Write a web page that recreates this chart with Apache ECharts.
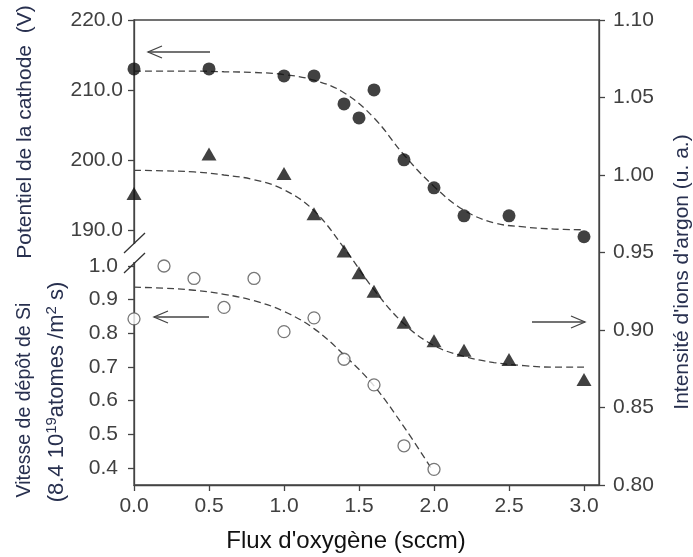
<!DOCTYPE html>
<html>
<head>
<meta charset="utf-8">
<script src="https://cdn.jsdelivr.net/npm/echarts@6/dist/echarts.min.js"></script>
<style>
html,body{margin:0;padding:0;background:#fff;}
#chart{width:693px;height:557px;}
</style>
</head>
<body>
<div id="chart"></div>
<script>
// ---- Data ----
const xTicks = [0, 0.5, 1.0, 1.5, 2.0, 2.5, 3.0];
const potTicks = [190, 200, 210, 220];
const rateTicks = [0.4, 0.5, 0.6, 0.7, 0.8, 0.9, 1.0];

// Cathode potential (V) — filled circles
const xPot = [0, 0.5, 1.0, 1.2, 1.4, 1.5, 1.6, 1.8, 2.0, 2.2, 2.5, 3.0];
const potential = [213, 213, 212, 212, 208, 206, 210, 200, 196, 192, 192, 189];
// Dashed fit through potential
const xPotFit = [0, 0.2, 0.4, 0.6, 0.8, 1.0, 1.2, 1.4, 1.6, 1.8, 2.0, 2.2, 2.4, 2.6, 2.8, 3.0];
const potFit = [212.7, 212.7, 212.7, 212.6, 212.5, 212.2, 211.4, 209.6, 206.0, 200.7, 196.2, 192.8, 191.0, 190.4, 190.1, 190.0];

// Argon ion intensity (a.u.) — filled triangles
const xArgon = [0, 0.5, 1.0, 1.2, 1.4, 1.5, 1.6, 1.8, 2.0, 2.2, 2.5, 3.0];
const argon = [0.988, 1.0135, 1.001, 0.975, 0.951, 0.937, 0.925, 0.905, 0.893, 0.887, 0.881, 0.868];
const xArgonFit = [0, 0.2, 0.4, 0.6, 0.8, 1.0, 1.2, 1.4, 1.6, 1.8, 2.0, 2.2, 2.4, 2.6, 2.8, 3.0];
const argonFit = [1.003, 1.0027, 1.002, 1.0, 0.997, 0.9905, 0.977, 0.953, 0.926, 0.904, 0.890, 0.883, 0.879, 0.877, 0.876, 0.876];

// Si deposition rate — open circles
const xRate = [0, 0.2, 0.4, 0.6, 0.8, 1.0, 1.2, 1.4, 1.6, 1.8, 2.0];
const rate = [0.843, 1.0, 0.963, 0.877, 0.963, 0.805, 0.846, 0.723, 0.647, 0.466, 0.396];
const xRateFit = [0, 0.2, 0.4, 0.6, 0.8, 1.0, 1.2, 1.4, 1.6, 1.8, 1.98];
const rateFit = [0.937, 0.934, 0.928, 0.916, 0.897, 0.865, 0.814, 0.736, 0.644, 0.522, 0.40];

const pairs = (xs, ys) => xs.map((x, i) => [x, ys[i]]);

const AX = '#444';
const LBL = '#404040';
const TITLE = '#28304f';
const FONT = 'Liberation Sans, Arial, sans-serif';

const chart = echarts.init(document.getElementById('chart'), null, {renderer: 'canvas'});

const axisLabelBase = {color: LBL, fontSize: 21, fontFamily: FONT};

const dash = {color: '#444', width: 1.3, type: [7, 4]};

const option = {
  backgroundColor: '#fff',
  animation: false,
  grid: {left: 134, right: 94, top: 20, bottom: 72, containLabel: false,
         show: true, borderColor: AX, borderWidth: 1.3, backgroundColor: 'transparent'},
  xAxis: {
    type: 'value', min: 0, max: 3.1,
    axisLine: {show: true, lineStyle: {color: AX, width: 1.3}},
    axisTick: {show: true, length: 6, inside: false, customValues: xTicks, lineStyle: {color: AX, width: 1.3}},
    axisLabel: Object.assign({}, axisLabelBase, {margin: 11, customValues: xTicks, formatter: v => v.toFixed(1)}),
    splitLine: {show: false}
  },
  yAxis: [
    { // cathode potential (upper left)
      type: 'value', position: 'left', min: 153.5, max: 220,
      axisLine: {show: true, onZero: false, lineStyle: {color: AX, width: 1.3}},
      axisTick: {show: true, length: 6, customValues: potTicks, lineStyle: {color: AX, width: 1.3}},
      axisLabel: Object.assign({}, axisLabelBase, {margin: 11, customValues: potTicks, formatter: v => v.toFixed(1)}),
      splitLine: {show: false}
    },
    { // Si deposition rate (lower left)
      type: 'value', position: 'left', min: 0.3495, max: 1.7307,
      axisLine: {show: false},
      axisTick: {show: true, length: 6, customValues: rateTicks, lineStyle: {color: AX, width: 1.3}},
      axisLabel: Object.assign({}, axisLabelBase, {margin: 16, customValues: rateTicks, formatter: v => v.toFixed(1)}),
      splitLine: {show: false}
    },
    { // argon intensity (right)
      type: 'value', position: 'right', min: 0.80, max: 1.10, interval: 0.05,
      axisLine: {show: true, onZero: false, lineStyle: {color: AX, width: 1.3}},
      axisTick: {show: true, length: 6, lineStyle: {color: AX, width: 1.3}},
      axisLabel: Object.assign({}, axisLabelBase, {margin: 14, formatter: v => v.toFixed(2)}),
      splitLine: {show: false}
    }
  ],
  series: [
    {type: 'line', yAxisIndex: 0, data: pairs(xPotFit, potFit), smooth: 0.4, showSymbol: false,
     symbol: 'none', lineStyle: dash, z: 2},
    {type: 'line', yAxisIndex: 2, data: pairs(xArgonFit, argonFit), smooth: 0.4, showSymbol: false,
     symbol: 'none', lineStyle: dash, z: 2},
    {type: 'line', yAxisIndex: 1, data: pairs(xRateFit, rateFit), smooth: 0.4, showSymbol: false,
     symbol: 'none', lineStyle: dash, z: 2},
    {type: 'scatter', yAxisIndex: 0, data: pairs(xPot, potential), symbol: 'circle', symbolSize: 13,
     itemStyle: {color: '#111'}, z: 5},
    {type: 'scatter', yAxisIndex: 2, data: pairs(xArgon, argon), symbol: 'triangle', symbolSize: [15, 13],
     itemStyle: {color: '#111'}, z: 5},
    {type: 'scatter', yAxisIndex: 1, data: pairs(xRate, rate), symbol: 'circle', symbolSize: 12,
     itemStyle: {color: '#fff', borderColor: '#555', borderWidth: 1.3}, z: 5}
  ],
  graphic: [
    // axis break
    {type: 'rect', shape: {x: 127, y: 244, width: 14, height: 18}, style: {fill: '#fff'}, z: 100},
    {type: 'line', shape: {x1: 124, y1: 253, x2: 145, y2: 233}, style: {stroke: '#333', lineWidth: 1.3}, z: 101},
    {type: 'line', shape: {x1: 124, y1: 273, x2: 145, y2: 253}, style: {stroke: '#333', lineWidth: 1.3}, z: 101},
    // arrows
    {type: 'polyline', shape: {points: [[210, 52], [148, 52]]}, style: {stroke: '#444', lineWidth: 1.3, fill: null}, z: 101},
    {type: 'polyline', shape: {points: [[162, 46], [148, 52], [162, 58]]}, style: {stroke: '#444', lineWidth: 1.3, fill: null}, z: 101},
    {type: 'polyline', shape: {points: [[209, 317], [154, 317]]}, style: {stroke: '#444', lineWidth: 1.3, fill: null}, z: 101},
    {type: 'polyline', shape: {points: [[168, 311], [154, 317], [168, 323]]}, style: {stroke: '#444', lineWidth: 1.3, fill: null}, z: 101},
    {type: 'polyline', shape: {points: [[532, 322], [585, 322]]}, style: {stroke: '#444', lineWidth: 1.3, fill: null}, z: 101},
    {type: 'polyline', shape: {points: [[571, 316], [585, 322], [571, 328]]}, style: {stroke: '#444', lineWidth: 1.3, fill: null}, z: 101},
    // axis titles
    {type: 'text', x: 25, y: 132, rotation: Math.PI / 2,
     style: {text: 'Potentiel de la cathode  (V)', fill: TITLE, font: '21px ' + FONT, align: 'center', verticalAlign: 'middle'}, z: 101},
    {type: 'text', x: 25, y: 400, rotation: Math.PI / 2,
     style: {text: 'Vitesse de dépôt de Si', fill: TITLE, font: '19.5px ' + FONT, align: 'center', verticalAlign: 'middle'}, z: 101},
    {type: 'text', x: 57, y: 392, rotation: Math.PI / 2,
     style: {text: '(8.4 10{sup|19}atomes /m{sup|2} s)', fill: TITLE, font: '22px ' + FONT, align: 'center', verticalAlign: 'middle',
       rich: {sup: {fontSize: 15, fontFamily: FONT, fill: TITLE, verticalAlign: 'top', lineHeight: 25, padding: [0, 0, 8, 0]}}}, z: 101},
    {type: 'text', x: 682, y: 272, rotation: Math.PI / 2,
     style: {text: "Intensité d'ions d'argon (u. a.)", fill: TITLE, font: '21px ' + FONT, align: 'center', verticalAlign: 'middle'}, z: 101},
    {type: 'text', x: 346, y: 541,
     style: {text: "Flux d'oxygène (sccm)", fill: '#111', font: '24px ' + FONT, align: 'center', verticalAlign: 'middle'}, z: 101}
  ]
};
chart.setOption(option);
</script>
</body>
</html>
